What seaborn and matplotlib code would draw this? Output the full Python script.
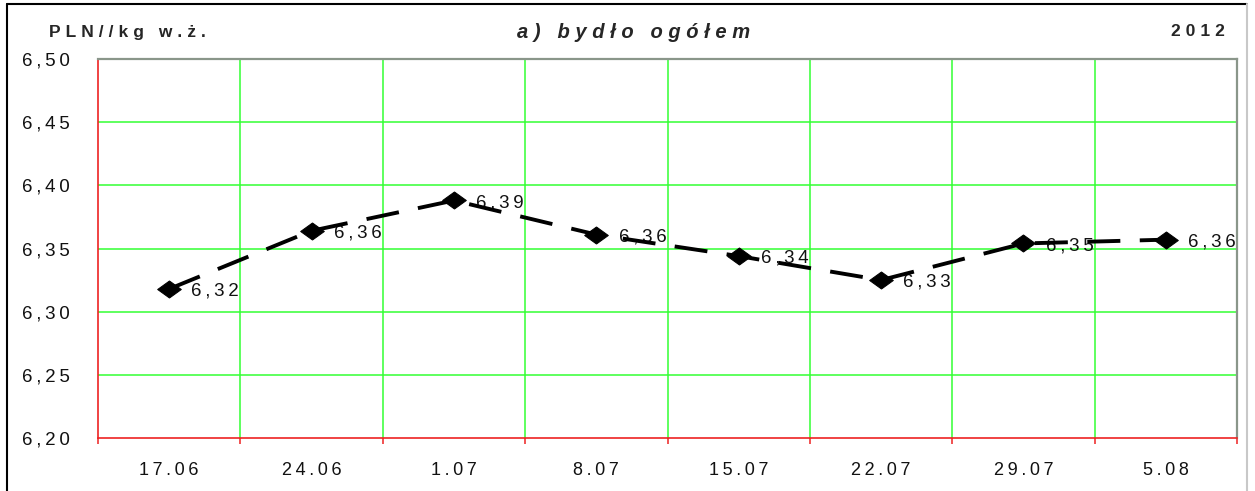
import matplotlib
matplotlib.use("Agg")
import matplotlib.pyplot as plt
import seaborn as sns
import pandas as pd
import numpy as np
from matplotlib.path import Path
from matplotlib.lines import Line2D

categories = ["17.06", "24.06", "1.07", "8.07", "15.07", "22.07", "29.07", "5.08"]
prices = [6.318, 6.364, 6.388, 6.361, 6.344, 6.325, 6.354, 6.357]
y_ticks = [6.20, 6.25, 6.30, 6.35, 6.40, 6.45, 6.50]

TS = "\u2009"

def spaced(s, sep=TS):
    return sep.join(list(s))

sns.set_theme(style="white")
plt.rcParams['font.family'] = ['Liberation Sans', 'DejaVu Sans']

fig = plt.figure(figsize=(12.55, 4.91), dpi=100)
ax = fig.add_axes([98/1255, 53/491, (1237-98)/1255, (438-59)/491])

df = pd.DataFrame({"date": categories, "price": prices})
diamond = Path([(-1, 0), (0, 0.72), (1, 0), (0, -0.72), (-1, 0)],
               [Path.MOVETO, Path.LINETO, Path.LINETO, Path.LINETO, Path.CLOSEPOLY])
sns.lineplot(data=df, x="date", y="price", ax=ax, color="black", linewidth=2.8,
             linestyle=(0, (8.5, 5)), marker=diamond, markersize=17,
             markerfacecolor="black", markeredgecolor="black", sort=False, zorder=3)

ax.set_xlim(-0.5, len(categories) - 0.5)
ax.set_ylim(6.20, 6.50)
ax.set_xlabel("")
ax.set_ylabel("")

# grid lines
for yv in y_ticks[1:-1]:
    ax.axhline(yv, color="#33ff33", lw=1.1, zorder=0)
for i in range(1, len(categories)):
    ax.axvline(i - 0.5, color="#33ff33", lw=1.1, zorder=0)

for side in ["top", "right"]:
    ax.spines[side].set_color("#8a968a")
    ax.spines[side].set_linewidth(1.6)
ax.spines["left"].set_color("#ee2222")
ax.spines["bottom"].set_color("#ee2222")
ax.spines["left"].set_linewidth(1.2)
ax.spines["bottom"].set_linewidth(1.2)

ax.set_yticks(y_ticks)
ax.set_yticklabels([spaced(f"{v:.2f}".replace(".", ",")) for v in y_ticks], fontsize=13.5)
ax.set_xticks(np.arange(len(categories)))
ax.set_xticklabels([spaced(c) for c in categories], fontsize=13)
ax.tick_params(axis="x", length=0, pad=17, colors="#111111")
ax.tick_params(axis="y", length=6, width=1.1, color="#ee2222", pad=14, labelcolor="#111111")
ax.set_xticks(np.arange(len(categories) + 1) - 0.5, minor=True)
ax.tick_params(axis="x", which="minor", bottom=True, length=4, width=1.1, color="#ee2222",
               direction="out")

for i, (c, v) in enumerate(zip(categories, prices)):
    ax.annotate(spaced(f"{v:.2f}".replace(".", ",")), (i, v), xytext=(16, -1.5),
                textcoords="offset points", ha="left", va="center", fontsize=13.5,
                color="#111111", zorder=1.5)

fig.text(49/1255, 1 - 32/491, spaced("PLN//kg w.ż.", TS + "\u200a"), fontsize=12.5,
         fontweight="bold", ha="left", va="center")
fig.text(634/1255, 1 - 33/491, spaced("a) bydło ogółem", " "), fontsize=14.5, fontweight="bold",
         style="italic", ha="center", va="center")
fig.text(1225/1255, 1 - 32/491, spaced("2012", TS + "\u200a"), fontsize=12.5, fontweight="bold",
         ha="right", va="center")

# outer frame
fig.add_artist(Line2D([7/1255, 1247/1255], [1 - 4/491, 1 - 4/491], color="black", lw=1.5,
                      transform=fig.transFigure))
fig.add_artist(Line2D([7/1255, 7/1255], [0, 1 - 4/491], color="black", lw=1.5,
                      transform=fig.transFigure))
fig.add_artist(Line2D([1247/1255, 1247/1255], [0, 1 - 4/491], color="#c8c8c8", lw=1.5,
                      transform=fig.transFigure))

fig.savefig("out.png", dpi=100)
